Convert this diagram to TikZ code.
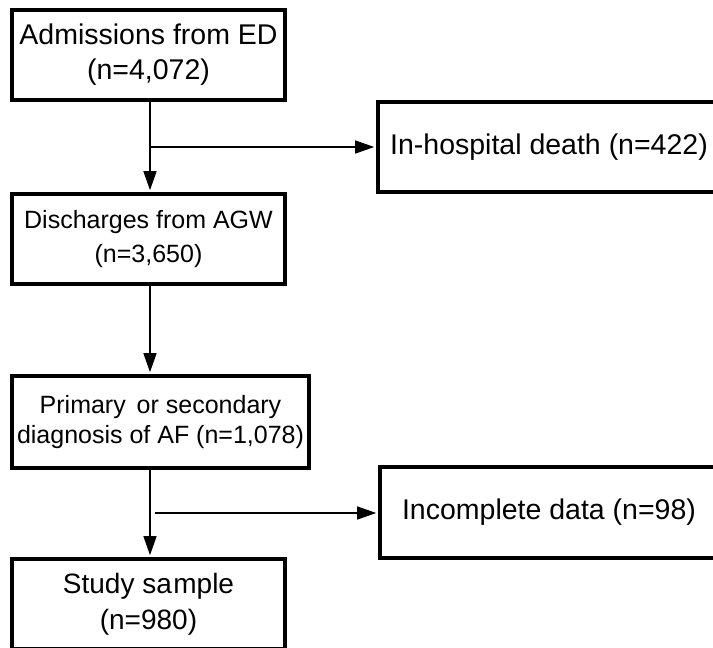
\documentclass[tikz,border=0pt]{standalone}
\usepackage{fontspec}
\setmainfont{Liberation Sans}
\usetikzlibrary{arrows.meta,calc}
\begin{document}
\begin{tikzpicture}[x=1pt,y=-1pt,
  box/.style={draw=black,line width=3.6pt,fill=white,inner sep=0pt,align=center,
    font=\fontsize{28.5}{35}\selectfont},
  smallbox/.style={box,font=\fontsize{25}{30}\selectfont},
  flow/.style={line width=1.3pt,-{Triangle[length=19pt,width=13pt]},shorten >=2pt}]
\useasboundingbox (0,0) rectangle (713,648);
\clip (0,0) rectangle (713,648);
\fill[white] (0,0) rectangle (713,648);
\node[box,minimum width=273pt,minimum height=90pt] (adm) at (148.5,55) {Admissions from ED\\(n=4,072)};
\node[smallbox,minimum width=273pt,minimum height=90pt,font=\fontsize{25}{34}\selectfont] (agw) at (148.5,239) {Discharges from AGW\\(n=3,650)};
\node[box,minimum width=342pt,minimum height=90pt] (death) at (549,147) {In-hospital death (n=422)};
\node[smallbox,minimum width=297pt,minimum height=92pt] (af) at (160.5,422) {Primary\hspace{4pt} or secondary\\diagnosis of AF (n=1,078)};
\node[box,minimum width=338pt,minimum height=91pt] (inc) at (549,512.5) {Incomplete data (n=98)};
\node[box,minimum width=273pt,minimum height=90pt,font=\fontsize{28}{36}\selectfont] (study) at (148.5,604) {Study sa\kern1.5pt mple\\(n=980)};
\coordinate (j1) at (150,147);
\coordinate (j2) at (155,513);
\draw[flow] ([xshift=1.5pt]adm.south) -- ([xshift=1.5pt]adm.south |- agw.north);
\draw[flow] (j1) -- (death.west);
\draw[flow] ([xshift=1.5pt]agw.south) -- ([xshift=1.5pt]agw.south |- af.north);
\draw[flow] ([xshift=-10.5pt]af.south) -- ([xshift=-10.5pt]af.south |- study.north);
\draw[flow] (j2) -- (j2 -| inc.west);
\end{tikzpicture}
\end{document}
